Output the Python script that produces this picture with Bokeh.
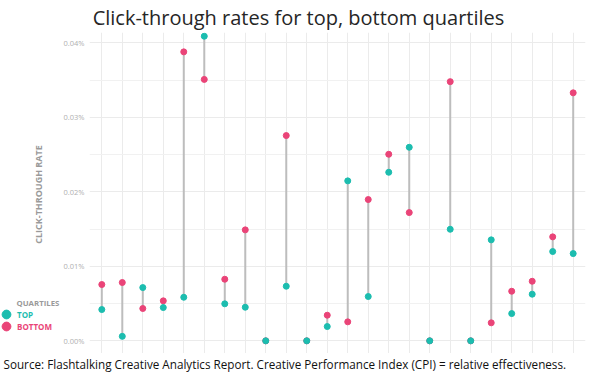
import math
from bokeh.plotting import figure
from bokeh.layouts import column, row
from bokeh.models import (Range1d, FixedTicker, PrintfTickFormatter, Label, Legend,
                          LegendItem, ColumnDataSource)
from bokeh.embed import file_html
from bokeh.resources import INLINE

# Data (click-through rate, in percent units)
categories = list(range(1, 25))
top = [0.0042, 0.0006, 0.00715, 0.00447, 0.00585, 0.0409, 0.00497, 0.00451,
       0.0, 0.00733, 0.0, 0.00192, 0.02148, 0.00595, 0.02263, 0.02599,
       0.0, 0.01498, 0.0, 0.01356, 0.00366, 0.00626, 0.01199, 0.01172]
bottom = [0.00756, 0.00783, 0.00434, 0.00537, 0.0388, 0.0351, 0.00827, 0.0149,
          0.0, 0.02756, 0.0, 0.00344, 0.00255, 0.01897, 0.02505, 0.01722,
          0.0, 0.0348, 0.0, 0.00242, 0.00666, 0.008, 0.01396, 0.0333]
y_ticks = [0.0, 0.01, 0.02, 0.03, 0.04]
y_minor = [0.005, 0.015, 0.025, 0.035]
series_names = ["TOP", "BOTTOM"]
title_text = "Click-through rates for top, bottom quartiles"
source_text = ("Source: Flashtalking Creative Analytics Report. "
               "Creative Performance Index (CPI) = relative effectiveness.")

TEAL = "#1cbdaf"
PINK = "#ea4478"
FONT = "Open Sans"


def blank_fig(w, h):
    f = figure(width=w, height=h, output_backend="svg", toolbar_location=None,
               min_border_left=0, min_border_right=0, min_border_top=0,
               min_border_bottom=0, x_range=Range1d(0, 1), y_range=Range1d(0, 1))
    f.axis.visible = False
    f.grid.visible = False
    f.outline_line_color = None
    f.background_fill_color = "white"
    f.border_fill_color = "white"
    return f


# ---- title strip
title_fig = blank_fig(600, 32)
title_fig.add_layout(Label(x=298, y=17, x_units="canvas", y_units="canvas",
                           text=title_text, text_font=FONT, text_font_size="20px",
                           text_color="#262626", text_baseline="middle",
                           text_align="center"))

# ---- main plot
src = ColumnDataSource(dict(x=categories, top=top, bottom=bottom))
p = figure(width=540, height=321, x_range=Range1d(0.4, 24.6),
           y_range=Range1d(-0.0017, 0.0414), output_backend="svg",
           toolbar_location=None, min_border_left=28, min_border_right=15,
           min_border_top=0, min_border_bottom=0)
p.outline_line_color = None
p.background_fill_color = "white"
p.border_fill_color = "white"

p.xaxis.visible = False
p.xgrid.ticker = FixedTicker(ticks=categories)
p.xgrid.grid_line_color = "#ebebeb"

yax = p.yaxis[0]
yax.ticker = FixedTicker(ticks=y_ticks, minor_ticks=y_minor)
yax.formatter = PrintfTickFormatter(format="%.2f%%")
yax.axis_line_color = None
yax.major_tick_line_color = None
yax.minor_tick_line_color = None
yax.major_tick_out = 0
yax.major_tick_in = 0
yax.minor_tick_out = 0
yax.minor_tick_in = 0
yax.major_label_text_font = FONT
yax.major_label_text_font_size = "7.5px"
yax.major_label_text_color = "#b0b0b0"
yax.major_label_standoff = 5

p.ygrid.grid_line_color = "#ebebeb"
p.ygrid.minor_grid_line_color = "#f1f1f1"

p.segment(x0="x", y0="top", x1="x", y1="bottom", source=src,
          line_color="#bdbdbd", line_width=2)
p.scatter(x="x", y="bottom", source=src, size=6, color=PINK)
p.scatter(x="x", y="top", source=src, size=6, color=TEAL)

# ---- left strip: axis title + legend
left_fig = blank_fig(60, 321)
left_fig.add_layout(Label(x=38, y=162, x_units="canvas", y_units="canvas",
                          text="CLICK-THROUGH RATE", angle=math.pi / 2,
                          text_font=FONT, text_font_size="9px", text_font_style="bold",
                          text_color="#9a9a9a", text_baseline="middle",
                          text_align="center"))
left_fig.add_layout(Label(x=16, y=270, x_units="canvas", y_units="canvas",
                          text="QUARTILES", text_font=FONT, text_font_size="7.8px",
                          text_font_style="bold", text_color="#9a9a9a",
                          text_baseline="middle", text_align="left"))
# legend proxies (no visible points; only used to draw legend swatches)
proxy = ColumnDataSource(dict(x=[float("nan")], y=[float("nan")]))
r_top = left_fig.scatter(x="x", y="y", source=proxy, size=10, color=TEAL)
r_bot = left_fig.scatter(x="x", y="y", source=proxy, size=10, color=PINK)


def make_legend(label, renderer, color, loc):
    lg = Legend(items=[LegendItem(label=label, renderers=[renderer])],
                location=loc, glyph_width=22, glyph_height=22, label_standoff=0,
                padding=0, margin=0, spacing=0, label_height=22,
                background_fill_alpha=0, border_line_alpha=0,
                label_text_font=FONT, label_text_font_size="8px",
                label_text_font_style="bold", label_text_color=color)
    left_fig.add_layout(lg)


make_legend(series_names[0], r_top, TEAL, (-5, 28))
make_legend(series_names[1], r_bot, PINK, (-5, 16))

# ---- source strip
source_fig = blank_fig(600, 22)
source_fig.add_layout(Label(x=3, y=10, x_units="canvas", y_units="canvas",
                            text=source_text, text_font=FONT, text_font_size="11.7px",
                            text_color="#111111", text_baseline="middle",
                            text_align="left"))

layout = column(title_fig, row(left_fig, p), source_fig)
open("out.html", "w").write(file_html(layout, INLINE))
